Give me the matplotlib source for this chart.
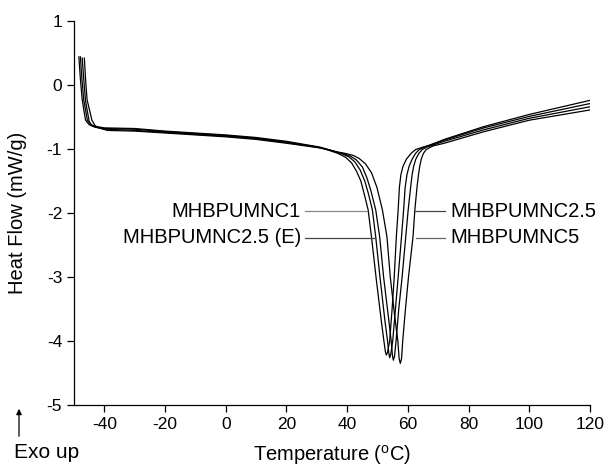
import matplotlib
matplotlib.use("Agg")
import matplotlib.pyplot as plt

plt.rcParams["font.family"] = ["Liberation Sans", "DejaVu Sans"]
plt.rcParams["mathtext.fontset"] = "custom"
plt.rcParams["mathtext.rm"] = "Liberation Sans"
plt.rcParams["axes.unicode_minus"] = False

# ---- DSC traces (temperature degC, heat flow mW/g) ----
temp_a = [-48.4, -47.9, -47.3, -46.2, -45.0, -43.0, -40.0, -30.0, -20.0, -10.0, 0.0, 10.0, 20.0,
          30.0, 34.0, 37.0, 39.5, 41.5, 43.1, 44.5, 45.6, 46.9, 48.0, 49.5, 51.2, 52.1, 52.6, 52.9,
          53.3, 54.0, 54.8, 55.5, 56.2, 56.8, 57.2, 57.7, 58.4, 59.5, 61.0, 62.5, 65.0, 67.2,
          72.0, 85.0, 100.0, 120.0]
flow_a = [0.44, 0.10, -0.23, -0.55, -0.62, -0.66, -0.68, -0.69, -0.73, -0.76, -0.79, -0.83, -0.89,
          -0.97, -1.02, -1.07, -1.13, -1.22, -1.35, -1.50, -1.70, -1.95, -2.37, -3.00, -3.67, -4.00, -4.17, -4.22,
          -4.18, -4.00, -3.50, -3.00, -2.37, -1.95, -1.60, -1.40, -1.27, -1.16, -1.07, -1.01, -0.97, -0.94,
          -0.85, -0.65, -0.46, -0.24]

temp_b = [-47.9, -47.4, -46.8, -45.6, -44.5, -42.5, -40.0, -30.0, -20.0, -10.0, 0.0, 10.0, 20.0,
          31.0, 35.0, 38.0, 40.5, 42.5, 44.3, 45.8, 47.0, 48.3, 49.4, 50.8, 52.4, 53.3, 53.7, 54.0,
          54.4, 55.0, 55.9, 56.8, 57.9, 58.6, 59.1, 59.7, 60.4, 61.4, 62.5, 63.7, 65.5, 67.2,
          72.0, 85.0, 100.0, 120.0]
flow_b = [0.44, 0.10, -0.23, -0.55, -0.62, -0.65, -0.67, -0.68, -0.72, -0.75, -0.78, -0.82, -0.88,
          -0.97, -1.03, -1.07, -1.12, -1.20, -1.33, -1.50, -1.70, -1.95, -2.37, -3.00, -3.67, -4.00, -4.18, -4.26,
          -4.20, -4.00, -3.50, -3.00, -2.37, -1.95, -1.60, -1.40, -1.27, -1.16, -1.07, -1.01, -0.97, -0.94,
          -0.86, -0.67, -0.49, -0.29]

temp_c = [-47.3, -46.8, -46.2, -45.0, -44.0, -42.0, -40.0, -30.0, -20.0, -10.0, 0.0, 10.0, 20.0,
          31.5, 35.5, 38.5, 41.0, 43.0, 45.0, 46.5, 47.8, 49.4, 50.7, 52.0, 53.7, 54.5, 54.9, 55.2,
          55.6, 56.1, 57.0, 58.1, 59.3, 60.1, 60.9, 61.4, 61.9, 62.6, 63.6, 64.7, 66.2, 67.5,
          72.0, 85.0, 100.0, 120.0]
flow_c = [0.42, 0.10, -0.25, -0.57, -0.64, -0.67, -0.69, -0.71, -0.74, -0.77, -0.80, -0.84, -0.90,
          -0.98, -1.03, -1.07, -1.11, -1.17, -1.28, -1.45, -1.65, -1.95, -2.37, -3.00, -3.67, -4.00, -4.22, -4.30,
          -4.24, -4.00, -3.50, -3.00, -2.37, -1.95, -1.60, -1.40, -1.27, -1.16, -1.07, -1.01, -0.97, -0.95,
          -0.88, -0.70, -0.52, -0.34]

temp_d = [-46.6, -46.2, -45.7, -44.1, -43.0, -41.0, -39.0, -30.0, -20.0, -10.0, 0.0, 10.0, 20.0,
          32.0, 36.0, 39.5, 42.0, 44.0, 46.0, 48.0, 49.8, 51.6, 53.1, 54.2, 55.8, 56.7, 57.1, 57.5,
          57.9, 58.3, 59.2, 60.2, 61.7, 62.3, 63.0, 63.5, 63.9, 64.4, 65.1, 66.0, 67.5, 68.5,
          72.0, 85.0, 100.0, 120.0]
flow_d = [0.42, 0.10, -0.23, -0.55, -0.64, -0.68, -0.71, -0.72, -0.75, -0.78, -0.81, -0.85, -0.91,
          -0.99, -1.04, -1.07, -1.10, -1.15, -1.23, -1.37, -1.60, -1.95, -2.37, -3.00, -3.67, -4.00, -4.27, -4.35,
          -4.28, -4.00, -3.50, -3.00, -2.37, -1.95, -1.60, -1.40, -1.27, -1.16, -1.07, -1.01, -0.97, -0.95,
          -0.91, -0.73, -0.55, -0.39]

x_ticks = [-40, -20, 0, 20, 40, 60, 80, 100, 120]
y_ticks = [-5, -4, -3, -2, -1, 0, 1]

fig = plt.figure(figsize=(6.08, 4.68), dpi=100)
ax = fig.add_axes([74 / 608, 63 / 468, 516 / 608, 384 / 468])

for t, f in [(temp_a, flow_a), (temp_b, flow_b), (temp_c, flow_c), (temp_d, flow_d)]:
    ax.plot(t, f, color="black", lw=0.9)

# leader-line labels
ax.plot([26.0, 46.6], [-1.97, -1.97], color="#888888", lw=0.9)
ax.plot([26.0, 49.2], [-2.39, -2.39], color="#444444", lw=0.9)
ax.plot([62.3, 72.2], [-1.97, -1.97], color="#444444", lw=0.9)
ax.plot([62.6, 72.2], [-2.39, -2.39], color="#666666", lw=0.9)
ax.text(24.8, -1.97, "MHBPUMNC1", ha="right", va="center", fontsize=14.5)
ax.text(24.8, -2.39, "MHBPUMNC2.5 (E)", ha="right", va="center", fontsize=14.5)
ax.text(74.0, -1.97, "MHBPUMNC2.5", ha="left", va="center", fontsize=14.5)
ax.text(74.0, -2.39, "MHBPUMNC5", ha="left", va="center", fontsize=14.5)

ax.set_xlim(-50, 120)
ax.set_ylim(-5, 1)
ax.set_xticks(x_ticks)
ax.set_yticks(y_ticks)
ax.tick_params(direction="out", length=5, width=0.9, labelsize=12.5)
for s in ["top", "right"]:
    ax.spines[s].set_visible(False)
for s in ["left", "bottom"]:
    ax.spines[s].set_linewidth(0.9)

ax.set_ylabel("Heat Flow (mW/g)", fontsize=14.5)
ax.yaxis.set_label_coords(-47 / 516, 0.5)
fig.text(332 / 608, 1 - 455 / 468, r"Temperature ($^{\rm o}$C)", ha="center", va="center",
         fontsize=14.5)

# "Exo up" marker
fig.text(14 / 608, 1 - 452 / 468, "Exo up", ha="left", va="center", fontsize=15)
ax.annotate("", xy=(19 / 608, 1 - 406 / 468), xytext=(19 / 608, 1 - 439 / 468),
            xycoords="figure fraction", textcoords="figure fraction",
            arrowprops=dict(arrowstyle="-|>", color="black", lw=0.9, mutation_scale=8),
            annotation_clip=False)

fig.savefig("out.png", dpi=100)
